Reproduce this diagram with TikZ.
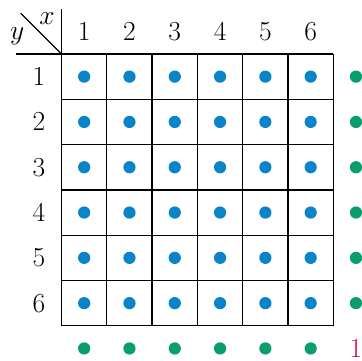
\documentclass[tikz,border=0pt]{standalone}
\usepackage{amsmath, amssymb}
\usepackage{xcolor}
\usepackage{tikz}
\usetikzlibrary{calc, positioning}

\definecolor{dotblue}{HTML}{0A84C8}
\definecolor{dotgreen}{HTML}{0A9E6E}
\definecolor{sumred}{HTML}{C8104A}

\begin{document}
\begin{tikzpicture}[x=1cm, y=1cm, line width=0.8pt,
    dotb/.style={circle, fill=dotblue, inner sep=0pt, minimum size=0.27cm},
    dotg/.style={circle, fill=dotgreen, inner sep=0pt, minimum size=0.27cm},
    lab/.style={font=\LARGE}]
    \useasboundingbox (-1.358,1.192) rectangle (6.633,-6.777);

    % 1. Luoi 6x6 va duong tieu de
    \draw (0,0) grid (6,-6);
    \draw (-1,0) -- (0,0) -- (0,1);
    \draw (-0.9,0.9) -- (0,0);
    \node[lab] (hx) at (-0.32,0.78) {$x$};
    \node[lab] (hy) at (-0.98,0.4) {$y$};

    % 2. Nhan cot va hang
    \foreach \i in {1,...,6} {
        \node[lab] (col\i) at (\i-0.5,0.5) {$\i$};
        \node[lab] (row\i) at (-0.5,0.5-\i) {$\i$};
    }

    % 3. Cac cham xanh trong o
    \foreach \i in {1,...,6}
        \foreach \j in {1,...,6}
            \node[dotb] (c\i\j) at (\i-0.5,0.5-\j) {};

    % 4. Cham xanh la ben phai va ben duoi
    \foreach \i in {1,...,6} {
        \node[dotg] (r\i) at (6.5,0.5-\i) {};
        \node[dotg] (b\i) at (\i-0.5,-6.5) {};
    }
    \node[lab, text=sumred] (one) at (6.5,-6.5) {$1$};
\end{tikzpicture}
\end{document}
